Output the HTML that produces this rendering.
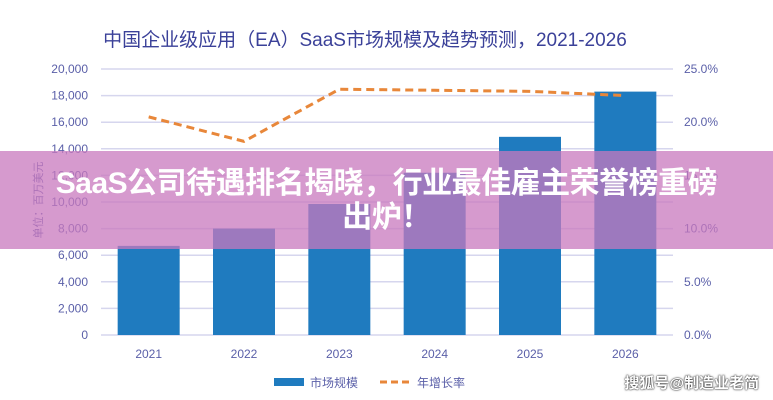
<!DOCTYPE html>
<html><head><meta charset="utf-8">
<style>
body{margin:0;width:773px;height:400px;overflow:hidden;background:#fff;font-family:"Liberation Sans","Noto Sans CJK SC",sans-serif;}
svg{position:absolute;left:0;top:0}
#banner{position:absolute;left:0;top:151px;width:773px;height:98px;background:rgba(200,120,190,0.75);color:#fff;font-weight:bold;font-size:30px;text-align:center;line-height:34px;padding-top:16px;box-sizing:border-box;font-family:"Liberation Sans","Noto Sans CJK SC",sans-serif;letter-spacing:-0.5px;}
#wm{position:absolute;right:14px;top:372px;color:#fff;font-size:15px;font-weight:bold;text-shadow:0 0 2px #333,0 0 1px #000;}
</style></head><body>
<svg id="chart" width="773" height="400"></svg>
<div id="banner">SaaS公司待遇排名揭晓，行业最佳雇主荣誉榜重磅<br>出炉！</div>
<div id="wm">搜狐号@制造业老简</div>
<script>
const categories=["2021","2022","2023","2024","2025","2026"];
const marketSize=[6700,8000,9850,12200,14900,18300];
const growthRate=[20.5,18.2,23.1,23.0,22.9,22.5];
const leftTicks=[0,2000,4000,6000,8000,10000,12000,14000,16000,18000,20000];
const rightTicks=[0,5,10,15,20,25];

const NS="http://www.w3.org/2000/svg";
const svg=document.getElementById('chart');
const X0=101,X1=673,Y0=335,Y1=69;
const band=(X1-X0)/categories.length;
const xc=i=>X0+band*(i+0.5);
const yL=v=>Y0-(v/20000)*(Y0-Y1);
const yR=v=>Y0-(v/25)*(Y0-Y1);
function el(t,a,txt){const e=document.createElementNS(NS,t);for(const k in a)e.setAttribute(k,a[k]);if(txt!=null)e.textContent=txt;svg.appendChild(e);return e;}

let t=el('text',{x:365,y:46,'text-anchor':'middle','font-size':19,fill:'#3b4199'},'中国企业级应用（EA）SaaS市场规模及趋势预测，2021-2026');



leftTicks.forEach(v=>{
  const g=el('line',{x1:X0,x2:X1,y1:yL(v),y2:yL(v),stroke:'#d6d6ee','stroke-width':1.5});
  
  
  const l=el('text',{x:88,y:yL(v)+4,'text-anchor':'end','font-size':12,fill:'#5a5fa8'},v.toLocaleString('en-US'));
  
  
});
rightTicks.forEach(v=>{
  const l=el('text',{x:684,y:yR(v)+4,'font-size':12,fill:'#5a5fa8'},v.toFixed(1)+'%');
  
  
});
let yt=el('text',{x:0,y:0,'text-anchor':'middle','font-size':11,fill:'#5a5fa8',transform:'translate(42,200) rotate(-90)'},'单位：百万美元');



const bw=62;
marketSize.forEach((v,i)=>{
  const r=el('rect',{x:xc(i)-bw/2,y:yL(v),width:bw,height:Y0-yL(v),fill:'#1f7bbf'});
  
  
  const l=el('text',{x:xc(i),y:358,'text-anchor':'middle','font-size':12,fill:'#5a5fa8'},categories[i]);
  
  
});
const pts=growthRate.map((v,i)=>xc(i)+','+yR(v)).join(' ');
const pl=el('polyline',{points:pts,fill:'none',stroke:'#e8873a','stroke-width':3,'stroke-dasharray':'8,5'});



const lb=el('rect',{x:274,y:378,width:30,height:8,fill:'#1f7bbf'});


const lt=el('text',{x:310,y:387,'font-size':12,fill:'#5a5fa8'},'市场规模');


const ll=el('line',{x1:380,x2:412,y1:382,y2:382,stroke:'#e8873a','stroke-width':3,'stroke-dasharray':'7,4'});


const lt2=el('text',{x:417,y:387,'font-size':12,fill:'#5a5fa8'},'年增长率');


</script>
</body></html>
